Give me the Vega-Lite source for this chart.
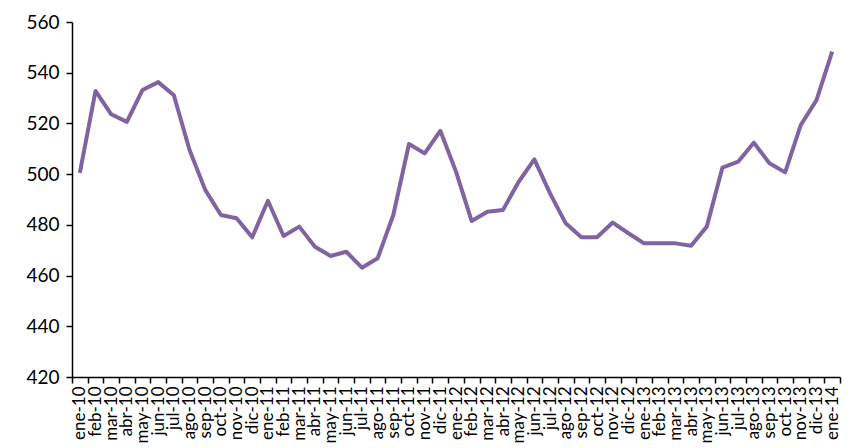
{
  "$schema": "https://vega.github.io/schema/vega-lite/v6.json",
  "width": 768,
  "height": 355,
  "autosize": {"type": "none"},
  "padding": {"left": 72, "top": 22, "right": 16, "bottom": 71},
  "background": "white",
  "config": {"view": {"stroke": null}, "font": "Lato"},
  "data": {"values": [
    {"mes": "ene-10", "v": 500.5}, {"mes": "feb-10", "v": 532.8}, {"mes": "mar-10", "v": 523.6}, {"mes": "abr-10", "v": 520.6},
    {"mes": "may-10", "v": 533.2}, {"mes": "jun-10", "v": 536.3}, {"mes": "jul-10", "v": 531.1}, {"mes": "ago-10", "v": 509.5},
    {"mes": "sep-10", "v": 493.8}, {"mes": "oct-10", "v": 483.9}, {"mes": "nov-10", "v": 482.6}, {"mes": "dic-10", "v": 475.1},
    {"mes": "ene-11", "v": 489.5}, {"mes": "feb-11", "v": 475.6}, {"mes": "mar-11", "v": 479.3}, {"mes": "abr-11", "v": 471.4},
    {"mes": "may-11", "v": 467.7}, {"mes": "jun-11", "v": 469.4}, {"mes": "jul-11", "v": 463.1}, {"mes": "ago-11", "v": 466.8},
    {"mes": "sep-11", "v": 483.9}, {"mes": "oct-11", "v": 511.9}, {"mes": "nov-11", "v": 508.2}, {"mes": "dic-11", "v": 517.1},
    {"mes": "ene-12", "v": 501.0}, {"mes": "feb-12", "v": 481.5}, {"mes": "mar-12", "v": 485.2}, {"mes": "abr-12", "v": 485.9},
    {"mes": "may-12", "v": 497.0}, {"mes": "jun-12", "v": 505.8}, {"mes": "jul-12", "v": 492.4}, {"mes": "ago-12", "v": 480.6},
    {"mes": "sep-12", "v": 475.1}, {"mes": "oct-12", "v": 475.1}, {"mes": "nov-12", "v": 480.9}, {"mes": "dic-12", "v": 476.7},
    {"mes": "ene-13", "v": 472.7}, {"mes": "feb-13", "v": 472.7}, {"mes": "mar-13", "v": 472.7}, {"mes": "abr-13", "v": 471.8},
    {"mes": "may-13", "v": 479.3}, {"mes": "jun-13", "v": 502.6}, {"mes": "jul-13", "v": 504.9}, {"mes": "ago-13", "v": 512.4},
    {"mes": "sep-13", "v": 504.3}, {"mes": "oct-13", "v": 500.7}, {"mes": "nov-13", "v": 519.4}, {"mes": "dic-13", "v": 529.2},
    {"mes": "ene-14", "v": 548.3}
  ]},
  "mark": {"type": "line", "color": "#8064A2", "strokeWidth": 4, "strokeJoin": "round"},
  "encoding": {
    "x": {
      "field": "mes", "type": "ordinal", "sort": null, "bandPosition": 0.5,
      "scale": {"type": "band", "paddingInner": 0, "paddingOuter": 0},
      "axis": {
        "title": null, "labelAngle": -90, "labelFontSize": 17, "labelColor": "#000",
        "domainColor": "#000", "domainWidth": 1.5, "tickColor": "#000", "tickWidth": 1.5, "tickSize": 6,
        "tickBand": "extent", "labelPadding": 3, "grid": false
      }
    },
    "y": {
      "field": "v", "type": "quantitative",
      "scale": {"domain": [420, 560], "nice": false, "zero": false},
      "axis": {
        "title": null, "values": [420, 440, 460, 480, 500, 520, 540, 560], "labelFontSize": 19, "labelColor": "#000",
        "domainColor": "#000", "domainWidth": 1.5, "tickColor": "#000", "tickWidth": 1.5, "tickSize": 6,
        "labelPadding": 7, "grid": false
      }
    }
  }
}
